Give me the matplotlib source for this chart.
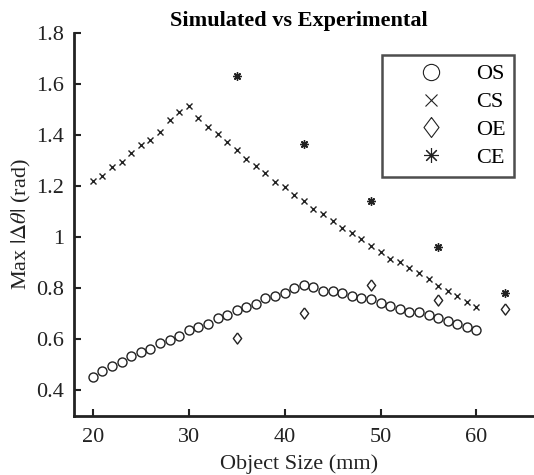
import matplotlib
matplotlib.use("Agg")
import matplotlib.pyplot as plt

plt.rcParams['font.family'] = ['Liberation Serif', 'DejaVu Serif']
plt.rcParams['mathtext.fontset'] = 'stix'

# simulated, 20..60 mm
sim_size = list(range(20, 61))
os_vals = [0.450, 0.476, 0.493, 0.509, 0.533, 0.548, 0.562, 0.584, 0.597, 0.614,
           0.634, 0.648, 0.660, 0.682, 0.693, 0.715, 0.727, 0.738, 0.760, 0.770,
           0.782, 0.801, 0.813, 0.805, 0.790, 0.788, 0.781, 0.771, 0.763, 0.759,
           0.742, 0.732, 0.720, 0.707, 0.707, 0.695, 0.682, 0.671, 0.659, 0.646,
           0.634]
cs_vals = [1.221, 1.240, 1.275, 1.295, 1.329, 1.362, 1.383, 1.414, 1.460, 1.491,
           1.514, 1.468, 1.434, 1.403, 1.372, 1.343, 1.305, 1.280, 1.252, 1.218,
           1.195, 1.164, 1.140, 1.111, 1.090, 1.063, 1.035, 1.016, 0.991, 0.966,
           0.941, 0.916, 0.902, 0.880, 0.859, 0.835, 0.809, 0.787, 0.768, 0.746,
           0.727]

# experimental
exp_size = [35, 42, 49, 56, 63]
oe_vals = [0.605, 0.703, 0.811, 0.753, 0.718]
ce_vals = [1.631, 1.367, 1.141, 0.960, 0.783]

fig = plt.figure(figsize=(5.34, 4.75), dpi=100)
ax = fig.add_axes([0.138, 0.125, 0.862, 0.805])

ink = '#222222'
diamond = [(0, 1), (0.75, 0), (0, -1), (-0.75, 0), (0, 1)]
ax.plot(sim_size, os_vals, 'o', mfc='none', mec=ink, ms=6.5, mew=1.0, label='OS')
ax.plot(sim_size, cs_vals, 'x', color=ink, ms=5, mew=1.0, label='CS')
ax.plot(exp_size, oe_vals, marker=diamond, ls='none', mfc='none', mec=ink, ms=8, mew=1.0, label='OE')
ax.plot(exp_size, ce_vals, marker=(8, 2, 0), ls='none', color=ink, ms=6, mew=1.0, label='CE')

ax.set_xlim(18, 66)
ax.set_ylim(0.3, 1.8)
ax.set_xticks([20, 30, 40, 50, 60])
ax.set_yticks([0.4, 0.6, 0.8, 1.0, 1.2, 1.4, 1.6, 1.8])
ax.set_yticklabels(['0.4', '0.6', '0.8', '1', '1.2', '1.4', '1.6', '1.8'])

for s in ['top', 'right']:
    ax.spines[s].set_visible(False)
for s in ['left', 'bottom']:
    ax.spines[s].set_linewidth(2)
    ax.spines[s].set_color(ink)
ax.tick_params(direction='in', length=5, width=1.5, labelsize=16, colors=ink, pad=7)
ax.tick_params(axis='x', pad=9)

ax.set_xlabel('Object Size (mm)', fontsize=16, color=ink, labelpad=5, x=0.49)
ax.set_ylabel(r'Max $|\Delta\theta|$ (rad)', fontsize=16, color=ink, labelpad=2)
ax.set_title('Simulated vs Experimental', fontsize=16, fontweight='bold', pad=5, x=0.49)

leg = ax.legend(loc='upper right', bbox_to_anchor=(0.957, 0.943), borderaxespad=0,
                fontsize=16, markerscale=1.8, frameon=True, fancybox=False, edgecolor=ink,
                handletextpad=0.2, labelspacing=0.33, borderpad=0.4, handlelength=3.6)
leg.get_frame().set_linewidth(1.8)
for h in leg.legend_handles:
    h.set_markeredgewidth(0.8)

fig.savefig('out.png', dpi=100)
